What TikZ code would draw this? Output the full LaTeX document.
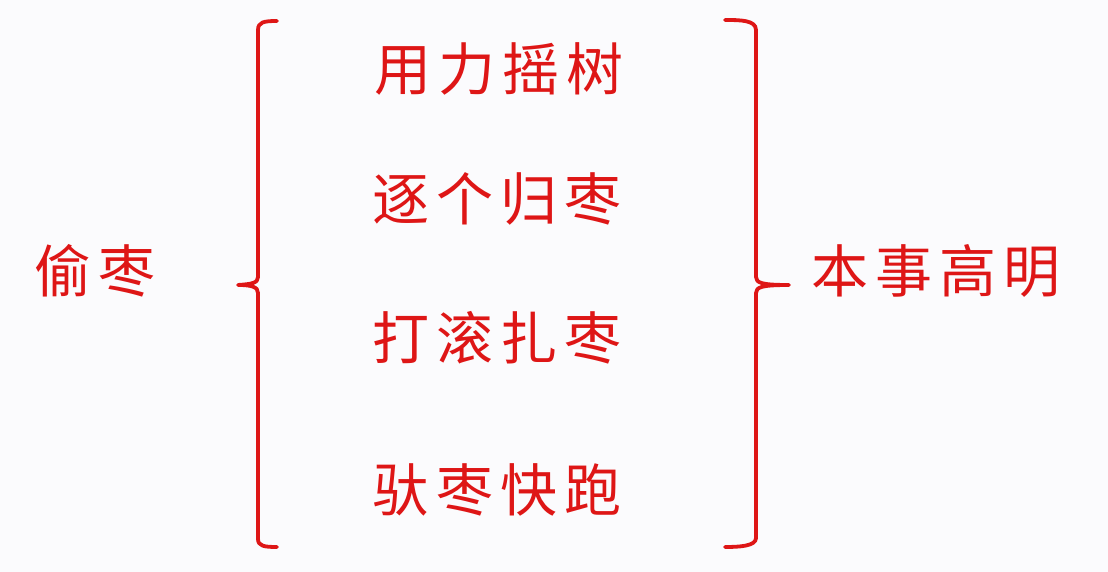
\documentclass[tikz,border=0pt]{standalone}
\usepackage{fontspec}
\newfontfamily\cjk[LetterSpace=12]{Noto Sans CJK SC}
\definecolor{brred}{RGB}{222,22,22}
\definecolor{bgc}{RGB}{251,251,253}
\tikzset{
  lbl/.style={text=brred, font=\cjk\fontsize{57}{60}\selectfont, inner sep=0pt, anchor=center},
  brace/.style={draw=brred, line width=3.8pt, line cap=round, line join=round}
}
\begin{document}
\begin{tikzpicture}[x=1pt,y=-1pt]
\fill[bgc] (0,0) rectangle (1108,572);
\useasboundingbox (0,0) rectangle (1108,572);
\node[lbl] (tou) at (95,271) {偷枣};
\node[lbl] (a) at (499,69) {用力摇树};
\node[lbl] (b) at (497,199) {逐个归枣};
\node[lbl] (c) at (497,338) {打滚扎枣};
\node[lbl] (d) at (497,490) {驮枣快跑};
\node[lbl] (ben) at (936,271) {本事高明};
% left brace
\coordinate (lt) at (277,21);
\coordinate (lm) at (238,285);
\coordinate (lb) at (277,547);
\path[brace] (lt) .. controls (264,21) and (258,22) .. (258,30)
  -- (258,277) .. controls (258,283) and (252,284) .. (lm)
  .. controls (252,285) and (258,287) .. (258,293)
  -- (258,539) .. controls (258,546) and (264,547) .. (lb);
% right brace
\coordinate (rt) at (725,20);
\coordinate (rm) at (789,285);
\coordinate (rb) at (725,547);
\path[brace] (rt) .. controls (740,20) and (756,20) .. (756,30)
  -- (756,277) .. controls (756,283) and (762,285) .. (rm)
  .. controls (762,285) and (756,287) .. (756,293)
  -- (756,538) .. controls (756,546) and (740,547) .. (rb);
\end{tikzpicture}
\end{document}
